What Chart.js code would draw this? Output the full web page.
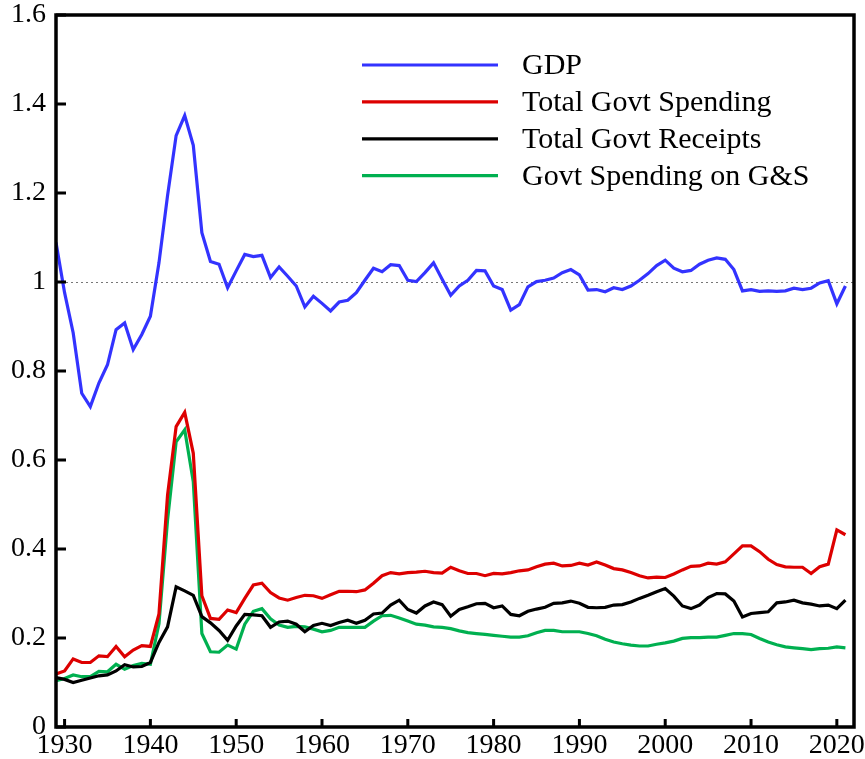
<!DOCTYPE html>
<html>
<head>
<meta charset="utf-8">
<script src="https://cdn.jsdelivr.net/npm/chart.js@4.4.1/dist/chart.umd.min.js"></script>
<style>
  html, body { margin: 0; padding: 0; background: #ffffff; }
  #wrap { width: 865px; height: 759px; }
</style>
</head>
<body>
<div id="wrap"><canvas id="c" width="865" height="759"></canvas></div>
<script>
// ---- Data ----
const FIRST_YEAR = 1929;
const LAST_YEAR = 2021;
const YEARS = Array.from({ length: LAST_YEAR - FIRST_YEAR + 1 }, (_, i) => FIRST_YEAR + i);

const SERIES_LABELS = ['GDP', 'Total Govt Spending', 'Total Govt Receipts', 'Govt Spending on G&S'];

const GDP = [
  1.089, 0.976, 0.886, 0.750, 0.720, 0.773, 0.814, 0.893, 0.908, 0.848, 0.882,
  0.923, 1.043, 1.194, 1.329, 1.374, 1.307, 1.111, 1.046, 1.040, 0.987,
  1.025, 1.062, 1.057, 1.060, 1.010, 1.034, 1.013, 0.991, 0.944, 0.968,
  0.952, 0.935, 0.955, 0.959, 0.976, 1.004, 1.031, 1.023, 1.039, 1.037,
  1.004, 1.001, 1.021, 1.043, 1.006, 0.970, 0.991, 1.004, 1.026, 1.025,
  0.991, 0.983, 0.937, 0.949, 0.989, 1.001, 1.004, 1.009, 1.021, 1.028,
  1.016, 0.982, 0.983, 0.978, 0.987, 0.983, 0.991, 1.004, 1.019, 1.037,
  1.049, 1.031, 1.023, 1.026, 1.040, 1.049, 1.054, 1.051, 1.028, 0.980,
  0.983, 0.979, 0.980, 0.979, 0.980, 0.986, 0.983, 0.986, 0.998, 1.003,
  0.951, 0.991
];

const TOTAL_SPENDING = [
  0.119, 0.126, 0.153, 0.145, 0.145, 0.160, 0.158, 0.181, 0.158, 0.173, 0.183,
  0.181, 0.254, 0.521, 0.675, 0.707, 0.615, 0.295, 0.244, 0.242, 0.263,
  0.257, 0.289, 0.319, 0.323, 0.302, 0.290, 0.285, 0.291, 0.296, 0.295,
  0.289, 0.297, 0.305, 0.305, 0.304, 0.308, 0.323, 0.340, 0.347, 0.344,
  0.347, 0.348, 0.350, 0.347, 0.346, 0.359, 0.351, 0.345, 0.345, 0.340,
  0.345, 0.344, 0.347, 0.351, 0.353, 0.360, 0.366, 0.368, 0.362, 0.363,
  0.368, 0.364, 0.371, 0.364, 0.356, 0.353, 0.347, 0.340, 0.335, 0.337,
  0.336, 0.344, 0.353, 0.361, 0.362, 0.368, 0.366, 0.371, 0.389, 0.407,
  0.407, 0.394, 0.377, 0.365, 0.360, 0.359, 0.359, 0.345, 0.360, 0.366,
  0.443, 0.432
];

const TOTAL_RECEIPTS = [
  0.111, 0.107, 0.100, 0.105, 0.110, 0.115, 0.117, 0.126, 0.140, 0.135, 0.136,
  0.145, 0.190, 0.225, 0.315, 0.306, 0.296, 0.248, 0.234, 0.217, 0.195,
  0.227, 0.253, 0.252, 0.250, 0.224, 0.236, 0.238, 0.231, 0.214, 0.228,
  0.233, 0.228, 0.235, 0.240, 0.233, 0.240, 0.254, 0.256, 0.274, 0.285,
  0.264, 0.256, 0.272, 0.281, 0.275, 0.249, 0.264, 0.270, 0.277, 0.278,
  0.268, 0.272, 0.253, 0.250, 0.260, 0.265, 0.269, 0.278, 0.279, 0.283,
  0.278, 0.269, 0.268, 0.269, 0.274, 0.275, 0.281, 0.289, 0.296, 0.304,
  0.311, 0.294, 0.272, 0.266, 0.274, 0.291, 0.300, 0.299, 0.283, 0.247,
  0.255, 0.257, 0.259, 0.279, 0.281, 0.285, 0.279, 0.276, 0.272, 0.274,
  0.266, 0.285
];

const GS_SPENDING = [
  0.104, 0.109, 0.117, 0.113, 0.113, 0.125, 0.124, 0.141, 0.130, 0.138, 0.143,
  0.141, 0.232, 0.465, 0.641, 0.668, 0.551, 0.210, 0.169, 0.168, 0.184,
  0.175, 0.231, 0.260, 0.266, 0.243, 0.229, 0.224, 0.226, 0.225, 0.220,
  0.214, 0.217, 0.224, 0.224, 0.224, 0.224, 0.238, 0.250, 0.251, 0.245,
  0.238, 0.231, 0.229, 0.225, 0.224, 0.221, 0.216, 0.212, 0.210, 0.208,
  0.206, 0.204, 0.202, 0.202, 0.205, 0.212, 0.217, 0.217, 0.214, 0.214,
  0.214, 0.210, 0.205, 0.197, 0.191, 0.187, 0.184, 0.182, 0.182, 0.186,
  0.189, 0.193, 0.199, 0.201, 0.201, 0.202, 0.202, 0.206, 0.210, 0.210,
  0.208, 0.199, 0.191, 0.185, 0.180, 0.178, 0.176, 0.174, 0.176, 0.177,
  0.180, 0.178
];

const X_TICKS = [1930, 1940, 1950, 1960, 1970, 1980, 1990, 2000, 2010, 2020];
const Y_TICKS = [0, 0.2, 0.4, 0.6, 0.8, 1, 1.2, 1.4, 1.6];
const X_MIN = 1929, X_MAX = 2022;
const Y_MIN = 0, Y_MAX = 1.6;
const REF_LEVEL = 1;

// ---- Styling ----
const COLORS = ['#3333ff', '#dd0000', '#000000', '#00b050'];
const FONT = "'Liberation Serif', 'Times New Roman', serif";

const toPts = arr => YEARS.map((y, i) => ({ x: y, y: arr[i] }));
const SERIES = [GDP, TOTAL_SPENDING, TOTAL_RECEIPTS, GS_SPENDING];

const datasets = SERIES.map((arr, i) => ({
  label: SERIES_LABELS[i],
  data: toPts(arr),
  borderColor: COLORS[i],
  backgroundColor: COLORS[i],
  borderWidth: 3.2,
  pointRadius: 0,
  tension: 0,
  fill: false
}));

const refLinePlugin = {
  id: 'refLine',
  beforeDatasetsDraw(chart) {
    const { ctx, chartArea, scales } = chart;
    const y = scales.y.getPixelForValue(REF_LEVEL);
    ctx.save();
    ctx.strokeStyle = '#777777';
    ctx.lineWidth = 1;
    ctx.setLineDash([2, 3]);
    ctx.beginPath();
    ctx.moveTo(chartArea.left, Math.round(y) + 0.5);
    ctx.lineTo(chartArea.right, Math.round(y) + 0.5);
    ctx.stroke();
    ctx.restore();
  }
};

const framePlugin = {
  id: 'frame',
  afterDatasetsDraw(chart) {
    const { ctx, chartArea, scales } = chart;
    const { left, right, top, bottom } = chartArea;
    ctx.save();
    ctx.strokeStyle = '#000000';
    ctx.lineWidth = 3.5;
    ctx.setLineDash([]);
    ctx.strokeRect(left, top, right - left, bottom - top);
    ctx.lineWidth = 3;
    ctx.beginPath();
    Y_TICKS.forEach(v => {
      const y = scales.y.getPixelForValue(v);
      ctx.moveTo(left, y);
      ctx.lineTo(left + 10, y);
    });
    X_TICKS.forEach(v => {
      const x = scales.x.getPixelForValue(v);
      ctx.moveTo(x, bottom);
      ctx.lineTo(x, bottom - 8);
    });
    ctx.stroke();
    ctx.restore();
  }
};

const legendPlugin = {
  id: 'customLegend',
  afterDraw(chart) {
    const { ctx, chartArea } = chart;
    const x0 = chartArea.left + 306;
    const lineLen = 136;
    const textX = x0 + 160;
    const y0 = chartArea.top + 50;
    const gap = 36.9;
    ctx.save();
    ctx.font = '30px ' + FONT;
    ctx.textAlign = 'left';
    ctx.textBaseline = 'middle';
    chart.data.datasets.forEach((ds, i) => {
      const y = y0 + i * gap;
      ctx.strokeStyle = ds.borderColor;
      ctx.lineWidth = 3.2;
      ctx.beginPath();
      ctx.moveTo(x0, y);
      ctx.lineTo(x0 + lineLen, y);
      ctx.stroke();
      ctx.fillStyle = '#000000';
      ctx.fillText(ds.label, textX, y + 1);
    });
    ctx.restore();
  }
};

new Chart(document.getElementById('c'), {
  type: 'line',
  data: { datasets },
  options: {
    responsive: false,
    animation: false,
    devicePixelRatio: 1,
    layout: { padding: { top: 15, right: 11, left: 0, bottom: 0 } },
    plugins: {
      legend: { display: false },
      tooltip: { enabled: false }
    },
    scales: {
      x: {
        type: 'linear',
        min: X_MIN,
        max: X_MAX,
        grid: { display: false, drawTicks: false },
        border: { display: false },
        afterBuildTicks: s => { s.ticks = X_TICKS.map(v => ({ value: v })); },
        afterFit: s => { s.height = 32; s.paddingLeft = 0; s.paddingRight = 0; },
        ticks: {
          color: '#000000',
          font: { family: FONT, size: 28 },
          padding: 2,
          maxRotation: 0,
          autoSkip: false,
          callback: v => String(v)
        }
      },
      y: {
        type: 'linear',
        min: Y_MIN,
        max: Y_MAX,
        grid: { display: false, drawTicks: false },
        border: { display: false },
        afterBuildTicks: s => { s.ticks = Y_TICKS.map(v => ({ value: v })); },
        afterFit: s => { s.width = 56; s.paddingTop = 0; s.paddingBottom = 0; },
        ticks: {
          color: '#000000',
          font: { family: FONT, size: 28 },
          padding: 10,
          callback: v => String(v)
        }
      }
    }
  },
  plugins: [refLinePlugin, framePlugin, legendPlugin]
});
</script>
</body>
</html>
